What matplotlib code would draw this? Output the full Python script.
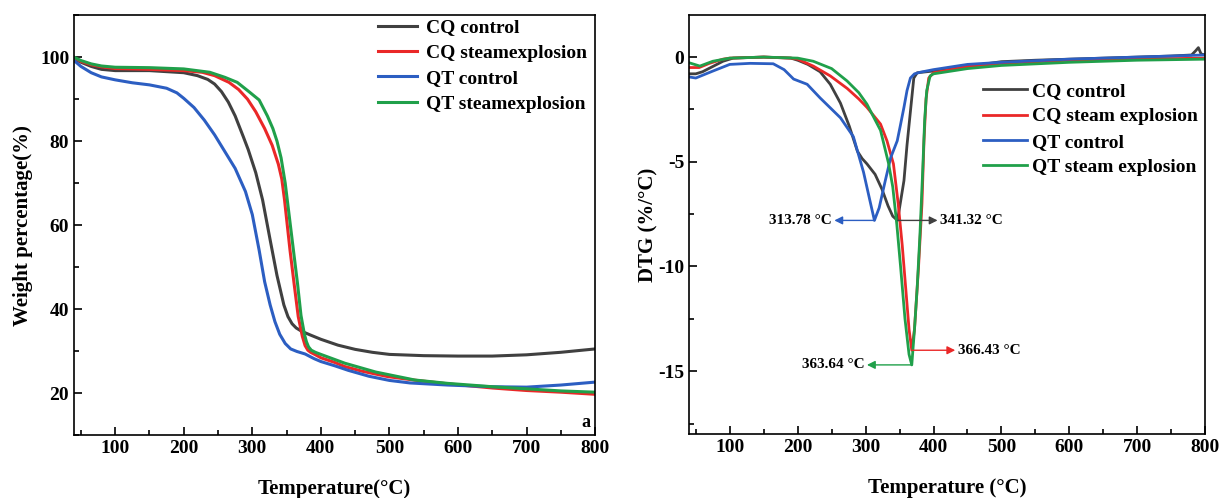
import numpy as np
import matplotlib
matplotlib.use("Agg")
import matplotlib.pyplot as plt
from matplotlib.ticker import MultipleLocator

plt.rcParams['font.family'] = ['Liberation Serif', 'DejaVu Serif']
plt.rcParams['font.weight'] = 'bold'
plt.rcParams['axes.labelweight'] = 'bold'
plt.rcParams['axes.unicode_minus'] = False

################### TG data (left panel)

tg_cq_ctrl_x = [40, 50, 65, 80, 100, 150, 200, 220, 235, 245, 255, 265, 275, 287, 294, 305, 315, 326,
                336, 346, 352, 358, 364, 372, 385, 400, 425, 450, 475, 500, 550, 600, 650, 700, 750, 800]
tg_cq_ctrl_y = [99.6, 98.8, 97.8, 97.1, 96.8, 96.8, 96.3, 95.6, 94.7, 93.6, 91.8, 89.3, 86.0, 81.0, 78.0,
                72.5, 66.0, 56.5, 48.0, 41.0, 38.2, 36.5, 35.5, 34.7, 33.8, 32.8, 31.4, 30.4, 29.7, 29.2,
                28.9, 28.8, 28.8, 29.1, 29.7, 30.5]

tg_cq_se_x = [40, 50, 65, 80, 100, 150, 200, 227, 245, 266, 280, 293, 305, 318, 329, 338, 343, 347, 351,
              355, 361, 367, 373, 377, 381, 385, 391, 400, 420, 435, 460, 498, 540, 585, 650, 700, 750, 800]
tg_cq_se_y = [99.9, 99.0, 98.2, 97.7, 97.3, 97.1, 96.8, 96.4, 95.6, 94.0, 92.3, 90.0, 87.0, 83.0, 79.0,
              74.5, 71.0, 66.0, 60.0, 54.0, 46.0, 38.2, 33.5, 31.3, 30.2, 29.7, 29.2, 28.4, 27.3, 26.3,
              25.2, 23.9, 23.0, 22.2, 21.2, 20.6, 20.2, 19.7]

tg_qt_ctrl_x = [40, 50, 65, 80, 100, 125, 150, 175, 190, 200, 215, 230, 245, 260, 275, 290, 300, 310,
                318, 326, 333, 340, 348, 356, 365, 377, 390, 400, 420, 440, 470, 500, 530, 585, 650, 700,
                750, 800]
tg_qt_ctrl_y = [99.2, 97.8, 96.3, 95.3, 94.6, 93.9, 93.4, 92.6, 91.5, 90.2, 88.0, 85.0, 81.5, 77.5, 73.5,
                68.0, 62.5, 54.0, 46.5, 41.0, 37.0, 34.0, 31.8, 30.5, 29.9, 29.3, 28.2, 27.5, 26.5, 25.4,
                24.0, 23.0, 22.4, 21.9, 21.5, 21.4, 21.9, 22.6]

tg_qt_se_x = [40, 50, 65, 80, 100, 150, 200, 238, 260, 278, 295, 310, 322, 330, 336, 342, 348, 354, 360,
              366, 371, 376, 379, 382, 386, 392, 400, 435, 480, 537, 585, 650, 700, 750, 800]
tg_qt_se_y = [100.0, 99.2, 98.4, 97.9, 97.6, 97.5, 97.2, 96.4, 95.2, 94.0, 91.8, 89.8, 86.0, 83.0, 80.0,
              76.0, 70.0, 62.0, 54.0, 46.0, 38.5, 34.0, 32.2, 31.0, 30.2, 29.7, 29.2, 27.1, 25.0, 23.1,
              22.3, 21.5, 21.0, 20.5, 20.2]

################### DTG data (right panel)

dtg_cq_ctrl_x = [40, 50, 60, 75, 90, 105, 150, 190, 200, 215, 233, 248, 263, 276, 288, 295, 302, 314,
                 324, 333, 340, 347, 351, 356.5, 361, 366, 371, 376, 390, 420, 460, 500, 550, 600, 650,
                 700, 750, 780, 786, 790, 794, 800]
dtg_cq_ctrl_y = [-0.8, -0.8, -0.7, -0.45, -0.2, -0.05, 0.0, -0.05, -0.15, -0.35, -0.7, -1.3, -2.2, -3.3,
                 -4.5, -4.85, -5.1, -5.6, -6.3, -7.1, -7.6, -7.8, -7.0, -5.9, -4.2, -2.6, -1.0, -0.75,
                 -0.7, -0.6, -0.4, -0.22, -0.15, -0.1, -0.05, 0.0, 0.05, 0.1, 0.3, 0.45, 0.15, 0.1]

dtg_cq_se_x = [40, 55, 70, 90, 100, 150, 190, 200, 223, 248, 273, 290, 302, 312, 322, 331.5, 341, 348,
               354, 359, 364, 368, 372, 378, 383, 386, 389, 393, 400, 450, 500, 600, 700, 800]
dtg_cq_se_y = [-0.5, -0.5, -0.3, -0.1, -0.05, 0.0, -0.05, -0.1, -0.43, -0.9, -1.5, -2.0, -2.4, -2.8,
               -3.2, -4.0, -5.1, -7.0, -9.0, -11.0, -13.0, -14.0, -13.0, -10.0, -7.0, -4.0, -2.0, -1.0,
               -0.75, -0.45, -0.3, -0.15, -0.1, -0.05]

dtg_qt_ctrl_x = [40, 50, 75, 100, 130, 164, 180, 194, 214, 233, 263, 282, 297, 306, 313, 320, 329, 337,
                 346.6, 351, 356.5, 361, 366, 372, 381, 400, 450, 500, 600, 700, 800]
dtg_qt_ctrl_y = [-0.95, -1.0, -0.67, -0.35, -0.3, -0.32, -0.6, -1.05, -1.3, -1.95, -2.9, -3.8, -5.5,
                 -6.8, -7.8, -7.2, -5.9, -4.8, -4.0, -3.3, -2.4, -1.6, -1.0, -0.8, -0.72, -0.6, -0.35,
                 -0.25, -0.1, 0.0, 0.1]

dtg_qt_se_x = [40, 56, 75, 100, 150, 200, 223, 250, 272.7, 290, 302, 322, 334, 340, 346, 351.5, 358,
               364, 368, 372, 376, 380, 384, 387, 390, 395, 400, 450, 500, 600, 700, 800]
dtg_qt_se_y = [-0.27, -0.43, -0.2, -0.05, 0.0, -0.05, -0.2, -0.55, -1.14, -1.7, -2.25, -3.5, -5.1, -6.2,
               -8.0, -10.0, -12.5, -14.2, -14.7, -13.0, -11.0, -8.5, -5.5, -3.0, -1.6, -0.9, -0.8, -0.55,
               -0.4, -0.25, -0.15, -0.1]

tg_labels = ['CQ control', 'CQ steamexplosion', 'QT control', 'QT steamexplosion']
dtg_labels = ['CQ control', 'CQ steam explosion', 'QT control', 'QT steam explosion']
colors = ['#404040', '#ea2828', '#2c5ec2', '#20a04a']

# peak annotations: (curve x, curve y, arrow end x, label, colour, text side)
peaks = [(313, -7.8, 254, '313.78 °C', '#2c5ec2', 'right'),
         (347, -7.8, 406, '341.32 °C', '#404040', 'left'),
         (368, -14.0, 432, '366.43 °C', '#ea2828', 'left'),
         (368, -14.7, 302, '363.64 °C', '#20a04a', 'right')]

################### Plot

fig = plt.figure(figsize=(12.26, 4.98), dpi=100)
ax1 = fig.add_axes([0.0604, 0.1265, 0.425, 0.843])
ax2 = fig.add_axes([0.562, 0.1285, 0.421, 0.841])

tg = [(tg_cq_ctrl_x, tg_cq_ctrl_y), (tg_cq_se_x, tg_cq_se_y),
      (tg_qt_ctrl_x, tg_qt_ctrl_y), (tg_qt_se_x, tg_qt_se_y)]
for (x, y), c, lab in zip(tg, colors, tg_labels):
    ax1.plot(x, y, color=c, lw=2.2, label=lab)

dtg = [(dtg_cq_ctrl_x, dtg_cq_ctrl_y), (dtg_cq_se_x, dtg_cq_se_y),
       (dtg_qt_ctrl_x, dtg_qt_ctrl_y), (dtg_qt_se_x, dtg_qt_se_y)]
for (x, y), c, lab in zip(dtg, colors, dtg_labels):
    ax2.plot(x, y, color=c, lw=2.0, label=lab)

for px, py, ex, txt, c, ha in peaks:
    ax2.annotate('', xy=(ex, py), xytext=(px, py),
                 arrowprops=dict(arrowstyle='-|>', color=c, lw=1.0, mutation_scale=12,
                                 shrinkA=0, shrinkB=0))
    off = -4 if ha == 'right' else 4
    ax2.text(ex + off, py, txt, ha=ha, va='center', fontsize=11, fontweight='bold')

ax1.set_xlim(40, 800)
ax1.set_ylim(10, 110)
ax1.xaxis.set_major_locator(MultipleLocator(100))
ax1.xaxis.set_minor_locator(MultipleLocator(50))
ax1.yaxis.set_major_locator(MultipleLocator(20))
ax1.yaxis.set_minor_locator(MultipleLocator(10))
ax1.set_xlabel('Temperature(°C)', fontsize=15)
ax1.set_ylabel('Weight percentage(%)', fontsize=15)
ax1.text(793, 13, 'a', ha='right', va='center', fontsize=13, fontweight='bold')
ax1.legend(loc='upper right', frameon=False, fontsize=14, handlelength=2.0, handletextpad=0.5,
           labelspacing=0.4, borderaxespad=0.0, bbox_to_anchor=(1.0, 1.01))

ax2.set_xlim(40, 800)
ax2.set_ylim(-18, 2)
ax2.xaxis.set_major_locator(MultipleLocator(100))
ax2.xaxis.set_minor_locator(MultipleLocator(50))
ax2.yaxis.set_major_locator(MultipleLocator(5))
ax2.yaxis.set_minor_locator(MultipleLocator(2.5))
ax2.set_xlabel('Temperature (°C)', fontsize=15)
ax2.set_ylabel('DTG (%/°C)', fontsize=15)
ax2.legend(loc='upper right', frameon=False, fontsize=14, handlelength=2.25, handletextpad=0.25,
           labelspacing=0.4, bbox_to_anchor=(1.0, 0.858), borderaxespad=0.0)

for ax in (ax1, ax2):
    for s in ax.spines.values():
        s.set_linewidth(1.2)
    ax.tick_params(which='both', direction='in', top=False, right=False, labelsize=14, width=1.2)
    ax.tick_params(which='major', length=6)
    ax.tick_params(which='minor', length=3.5)
    for lbl in ax.get_xticklabels() + ax.get_yticklabels():
        lbl.set_fontweight('bold')
    ax.xaxis.set_label_coords(0.5, -0.105)

ax1.yaxis.set_label_coords(-0.078, 0.5)
ax2.yaxis.set_label_coords(-0.06, 0.5)

fig.savefig('out.png', dpi=100, facecolor='white')
